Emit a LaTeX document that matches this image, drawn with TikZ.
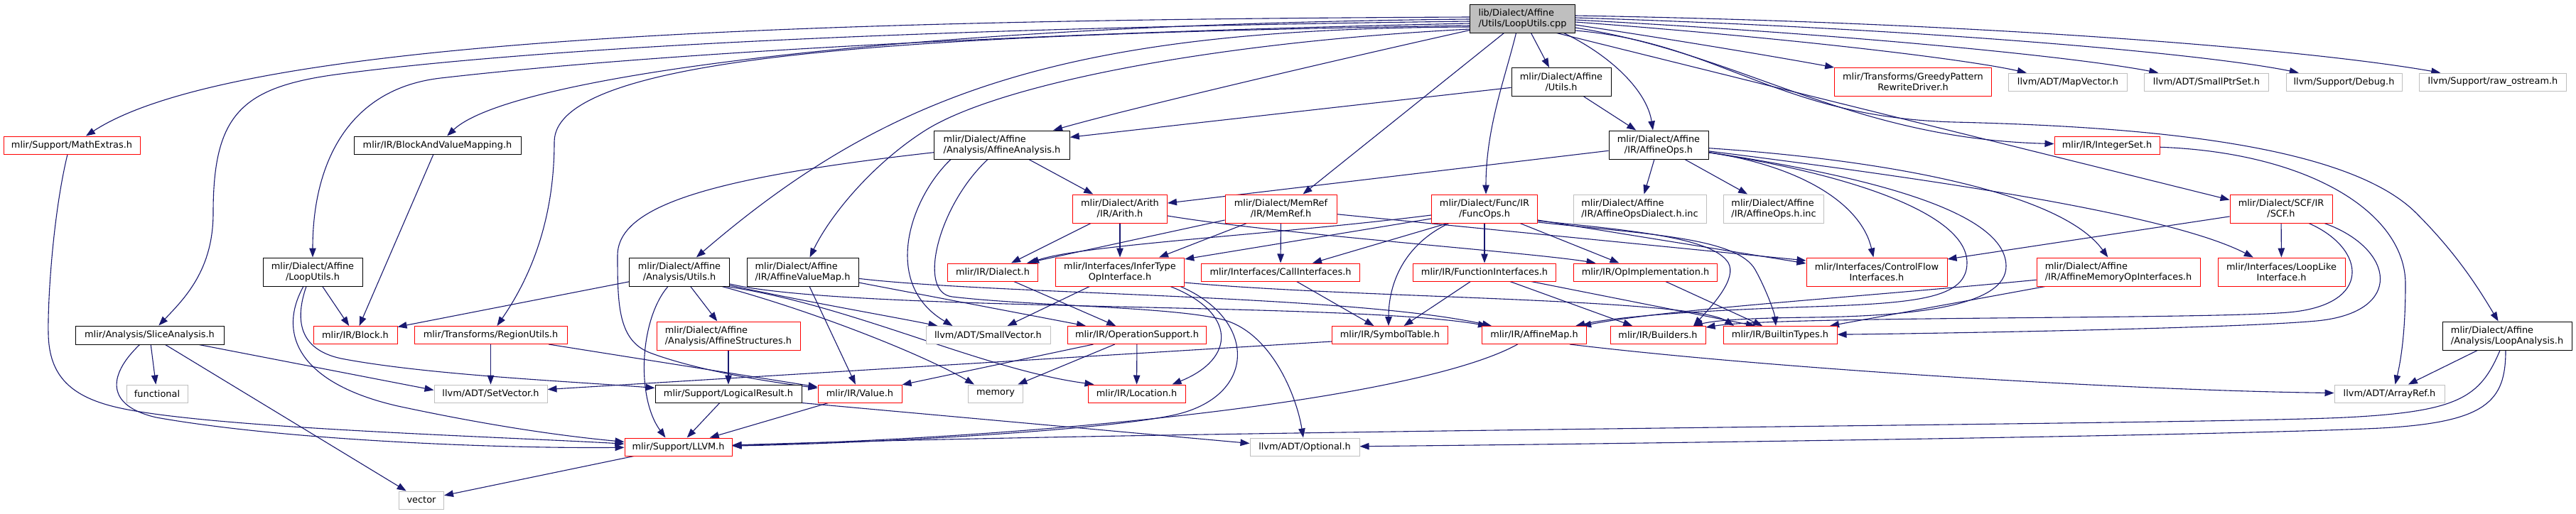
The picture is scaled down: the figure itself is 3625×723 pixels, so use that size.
\documentclass[tikz,border=0pt]{standalone}
\usepackage{fontspec}
\newfontfamily\graphfont{DejaVu Sans}
\usetikzlibrary{arrows.meta}
\definecolor{edgeblue}{HTML}{191970}
\definecolor{nodocgray}{HTML}{BFBFBF}
\definecolor{rootgray}{HTML}{BFBFBF}
\pgfdeclarelayer{background}
\pgfsetlayers{background,main}
\tikzset{
  box/.style={rectangle, draw, fill=white, line width=1pt, inner sep=0pt, minimum height=25pt, text=black, font=\graphfont\fontsize{12.9}{15}\selectfont},
  twoline/.style={minimum height=40pt},
  docbox/.style={box, draw=black},
  redbox/.style={box, draw=red},
  graybox/.style={box, draw=nodocgray},
  rootbox/.style={box, draw=black, fill=rootgray},
  dep/.style={draw=edgeblue, line width=1.1pt, -{Triangle[length=13pt,width=9.5pt]}},
}
\begin{document}
\begin{tikzpicture}[x=1pt,y=-1pt]
    \useasboundingbox (0,0) rectangle (3625,723);
    \node[rootbox, twoline, align=left, minimum width=147.5pt] (root) at (2142.5,26) {lib/Dialect/Affine\\/Utils/LoopUtils.cpp};
    \node[docbox, twoline, align=center, minimum width=140pt] (utils) at (2197,115.5) {mlir/Dialect/Affine\\/Utils.h};
    \node[redbox, twoline, align=center, minimum width=221pt] (greedy) at (2692,115.5) {mlir/Transforms/GreedyPattern\\RewriteDriver.h};
    \node[graybox, minimum width=167pt] (mapvector) at (2910,115.5) {llvm/ADT/MapVector.h};
    \node[graybox, minimum width=174.5pt] (smallptrset) at (3105,115.5) {llvm/ADT/SmallPtrSet.h};
    \node[graybox, minimum width=163pt] (debug) at (3298.5,115.5) {llvm/Support/Debug.h};
    \node[graybox, minimum width=206.5pt] (rawostream) at (3508,115.5) {llvm/Support/raw\_ostream.h};
    \node[redbox, minimum width=192pt] (mathextras) at (101,204.5) {mlir/Support/MathExtras.h};
    \node[docbox, minimum width=235pt] (bvmapping) at (615.5,204.5) {mlir/IR/BlockAndValueMapping.h};
    \node[docbox, twoline, align=left, minimum width=190.5pt] (affana) at (1410,204) {mlir/Dialect/Affine\\/Analysis/AffineAnalysis.h};
    \node[docbox, twoline, align=center, minimum width=140pt] (affops) at (2334,204) {mlir/Dialect/Affine\\/IR/AffineOps.h};
    \node[redbox, minimum width=148pt] (integerset) at (2965,204.5) {mlir/IR/IntegerSet.h};
    \node[redbox, twoline, align=center, minimum width=133pt] (arith) at (1576,294) {mlir/Dialect/Arith\\/IR/Arith.h};
    \node[redbox, twoline, align=center, minimum width=157pt] (memref) at (1802.5,294) {mlir/Dialect/MemRef\\/IR/MemRef.h};
    \node[redbox, twoline, align=center, minimum width=149pt] (funcops) at (2089,294) {mlir/Dialect/Func/IR\\/FuncOps.h};
    \node[graybox, twoline, align=left, minimum width=187pt] (opsdialect) at (2307.5,294) {mlir/Dialect/Affine\\/IR/AffineOpsDialect.h.inc};
    \node[graybox, twoline, align=left, minimum width=141pt] (opsinc) at (2496,294) {mlir/Dialect/Affine\\/IR/AffineOps.h.inc};
    \node[redbox, twoline, align=center, minimum width=144pt] (scf) at (3210,294) {mlir/Dialect/SCF/IR\\/SCF.h};
    \node[docbox, twoline, align=center, minimum width=140pt] (looputils) at (440,383) {mlir/Dialect/Affine\\/LoopUtils.h};
    \node[docbox, twoline, align=center, minimum width=141pt] (anautils) at (956,383) {mlir/Dialect/Affine\\/Analysis/Utils.h};
    \node[docbox, twoline, align=left, minimum width=157pt] (valuemap) at (1129.5,383) {mlir/Dialect/Affine\\/IR/AffineValueMap.h};
    \node[redbox, minimum width=127pt] (dialect) at (1397,383.5) {mlir/IR/Dialect.h};
    \node[redbox, twoline, align=center, minimum width=181.5pt] (infertype) at (1576,383) {mlir/Interfaces/InferType\\OpInterface.h};
    \node[redbox, minimum width=223pt] (callif) at (1802,383.5) {mlir/Interfaces/CallInterfaces.h};
    \node[redbox, minimum width=201pt] (funcif) at (2089,383.5) {mlir/IR/FunctionInterfaces.h};
    \node[redbox, minimum width=202pt] (opimpl) at (2315.5,383.5) {mlir/IR/OpImplementation.h};
    \node[redbox, twoline, align=center, minimum width=198pt] (controlflow) at (2641,383) {mlir/Interfaces/ControlFlow\\Interfaces.h};
    \node[redbox, twoline, align=left, minimum width=230pt] (memopif) at (2981,383) {mlir/Dialect/Affine\\/IR/AffineMemoryOpInterfaces.h};
    \node[redbox, twoline, align=center, minimum width=179pt] (looplike) at (3210.5,383) {mlir/Interfaces/LoopLike\\Interface.h};
    \node[docbox, minimum width=209pt, minimum height=26pt] (slice) at (210.5,472) {mlir/Analysis/SliceAnalysis.h};
    \node[redbox, minimum width=118pt] (block) at (500,472) {mlir/IR/Block.h};
    \node[redbox, minimum width=215pt] (regionutils) at (690.5,472) {mlir/Transforms/RegionUtils.h};
    \node[redbox, twoline, align=left, minimum width=202pt] (structures) at (1025,473) {mlir/Dialect/Affine\\/Analysis/AffineStructures.h};
    \node[graybox, minimum width=175pt] (smallvector) at (1390.5,472) {llvm/ADT/SmallVector.h};
    \node[redbox, minimum width=194.5pt] (opsupport) at (1600,472) {mlir/IR/OperationSupport.h};
    \node[redbox, minimum width=163pt] (symtable) at (1956,472) {mlir/IR/SymbolTable.h};
    \node[redbox, minimum width=146.5pt] (affmap) at (2159,472) {mlir/IR/AffineMap.h};
    \node[redbox, minimum width=134pt] (builders) at (2333,472) {mlir/IR/Builders.h};
    \node[redbox, minimum width=160pt] (builtintypes) at (2505,472) {mlir/IR/BuiltinTypes.h};
    \node[docbox, twoline, align=left, minimum width=182pt] (loopana) at (3528,473) {mlir/Dialect/Affine\\/Analysis/LoopAnalysis.h};
    \node[graybox, minimum width=86pt] (functional) at (221,554.5) {functional};
    \node[graybox, minimum width=159pt] (setvector) at (690.5,554.5) {llvm/ADT/SetVector.h};
    \node[docbox, minimum width=206pt] (logical) at (1025,554.5) {mlir/Support/LogicalResult.h};
    \node[redbox, minimum width=118pt] (value) at (1210,554.5) {mlir/IR/Value.h};
    \node[graybox, minimum width=77.5pt] (memory) at (1401,554.5) {memory};
    \node[redbox, minimum width=137pt] (location) at (1599.5,554.5) {mlir/IR/Location.h};
    \node[graybox, minimum width=155pt] (arrayref) at (3362.5,554.5) {llvm/ADT/ArrayRef.h};
    \node[redbox, minimum width=151pt] (llvm) at (954.5,629.5) {mlir/Support/LLVM.h};
    \node[graybox, minimum width=154pt] (optional) at (1836,629.5) {llvm/ADT/Optional.h};
    \node[graybox, minimum width=63pt] (vector) at (593,704.5) {vector};
    \begin{pgfonlayer}{background}
    \fill[white] (0,0) rectangle (3625,723);
    \draw[dep] ([yshift=2pt]root.west) .. controls (1100,28) and (330,55) .. (mathextras);
    \draw[dep] ([yshift=-1pt]root.west) .. controls (1300,34) and (720,105) .. (bvmapping);
    \draw[dep] ([yshift=-4pt]root.west) .. controls (1400,38) and (800,62) .. (480,104) .. controls (340,122) and (300,160) .. (300,300) .. controls (300,380) and (260,420) .. (slice);
    \draw[dep] ([yshift=-7pt]root.west) .. controls (1500,45) and (950,72) .. (620,110) .. controls (490,125) and (440,230) .. (looputils);
    \draw[dep] ([yshift=-10pt]root.west) .. controls (1300,48) and (780,75) .. (780,200) .. controls (780,320) and (740,400) .. (regionutils);
    \draw[dep] ([yshift=-12pt]root.west) .. controls (1500,40) and (1250,130) .. (anautils);
    \draw[dep] ([yshift=-15pt]root.west) .. controls (1700,60) and (1400,120) .. (1300,185) .. controls (1230,230) and (1170,300) .. (valuemap);
    \draw[dep] (root) .. controls (1900,80) and (1600,150) .. (affana);
    \draw[dep] ([xshift=-26pt]root.south) -- ([xshift=31pt]memref.north);
    \draw[dep] ([xshift=-9pt]root.south) .. controls (2118,110) and (2091,180) .. ([xshift=2pt]funcops.north);
    \draw[dep] ([xshift=12pt]root.south) -- ([xshift=-17pt]utils.north);
    \draw[dep] ([xshift=58pt]root.south) .. controls (2270,80) and (2318,130) .. ([xshift=-8pt]affops.north);
    \draw[dep] ([xshift=48pt]root.south) -- ([yshift=-8pt]scf.north west);
    \draw[dep] ([yshift=4pt]root.east) .. controls (2800,32) and (3250,70) .. (rawostream);
    \draw[dep] ([yshift=1pt]root.east) .. controls (2700,40) and (3100,75) .. (debug);
    \draw[dep] ([yshift=-2pt]root.east) .. controls (2600,48) and (2920,80) .. (smallptrset);
    \draw[dep] ([yshift=-5pt]root.east) .. controls (2500,52) and (2760,82) .. (mapvector);
    \draw[dep] ([yshift=-9pt]root.east) .. controls (2350,55) and (2500,80) .. (greedy);
    \draw[dep] ([yshift=-13pt]root.east) .. controls (2450,75) and (2600,195) .. (integerset);
    \draw[dep] ([yshift=-17pt]root.east) .. controls (2420,60) and (2500,165) .. (2750,172) .. controls (3000,178) and (3300,200) .. (3400,300) .. controls (3460,360) and (3490,410) .. (loopana);
    \draw[dep] (utils) -- (affana);
    \draw[dep] (utils) -- (affops);
    \draw[dep] (affana) -- (arith);
    \draw[dep] (affana) .. controls (1000,250) and (869,290) .. (869,360) .. controls (869,430) and (870,480) .. (915,497) .. controls (990,525) and (1100,540) .. (value);
    \draw[dep] ([xshift=-72pt]affana.south) .. controls (1280,280) and (1240,400) .. ([xshift=-50pt]smallvector.north);
    \draw[dep] ([xshift=-20pt]affana.south) .. controls (1320,290) and (1290,412) .. (1340,418) .. controls (1450,431) and (1650,432) .. (1720,450) .. controls (1790,468) and (1825,560) .. (optional);
    \draw[dep] (affops) -- (arith);
    \draw[dep] (affops) -- (opsdialect);
    \draw[dep] (affops) -- (opsinc);
    \draw[dep] (affops) .. controls (2540,235) and (2620,290) .. (controlflow);
    \draw[dep] (affops) .. controls (2650,225) and (2900,270) .. (memopif);
    \draw[dep] (affops) .. controls (2600,245) and (2768,300) .. (2768,370) .. controls (2768,420) and (2700,427) .. (2550,432) .. controls (2400,437) and (2280,445) .. (affmap);
    \draw[dep] (affops) .. controls (2640,250) and (2823,300) .. (2823,375) .. controls (2823,430) and (2700,445) .. (2550,447) .. controls (2450,448) and (2410,452) .. (builders);
    \draw[dep] (affops) .. controls (2700,250) and (3050,300) .. (looplike);
    \draw[dep] (arith) -- (dialect);
    \draw[dep] (arith) -- (infertype);
    \draw[dep] ([yshift=-10pt]arith.east) .. controls (1800,330) and (2150,355) .. ([xshift=-70pt]opimpl.north);
    \draw[dep] ([yshift=-16pt]memref.west) -- ([xshift=48pt]dialect.north);
    \draw[dep] ([xshift=-48pt]memref.south) -- ([xshift=55pt]infertype.north);
    \draw[dep] (memref) -- (callif);
    \draw[dep] (memref) -- ([yshift=16pt]controlflow.west);
    \draw[dep] ([yshift=-9pt]funcops.west) .. controls (1800,330) and (1520,345) .. ([xshift=52pt]dialect.north);
    \draw[dep] ([yshift=-14pt]funcops.west) -- ([yshift=18pt]infertype.east);
    \draw[dep] ([xshift=-52pt]funcops.south) -- ([xshift=45pt]callif.north);
    \draw[dep] ([xshift=-50pt]funcops.south) .. controls (1975,345) and (1954,400) .. ([xshift=-2pt]symtable.north);
    \draw[dep] (funcops) -- (funcif);
    \draw[dep] ([xshift=50pt]funcops.south) -- ([xshift=-37pt]opimpl.north);
    \draw[dep] ([yshift=-16pt]funcops.east) -- ([yshift=12pt]controlflow.west);
    \draw[dep] ([yshift=-17pt]funcops.east) .. controls (2300,325) and (2410,335) .. (2432,370) .. controls (2445,392) and (2410,430) .. ([xshift=50pt]builders.north);
    \draw[dep] ([yshift=-19pt]funcops.east) .. controls (2320,330) and (2445,335) .. (2470,380) .. controls (2485,407) and (2497,440) .. ([xshift=-6pt]builtintypes.north);
    \draw[dep] (scf) -- ([yshift=18pt]controlflow.east);
    \draw[dep] (scf) -- (looplike);
    \draw[dep] ([xshift=39pt]scf.south) .. controls (3330,350) and (3340,430) .. (3220,440) .. controls (3100,450) and (2500,445) .. (builders);
    \draw[dep] ([xshift=61pt]scf.south) .. controls (3370,350) and (3385,440) .. (3260,452) .. controls (3140,463) and (2700,470) .. (builtintypes);
    \draw[dep] ([xshift=-6pt]mathextras.south) .. controls (75,300) and (67,420) .. (68,470) .. controls (69,530) and (100,560) .. (170,575) .. controls (300,603) and (700,615) .. (llvm);
    \draw[dep] (bvmapping) -- (block);
    \draw[dep] (looputils) -- (block);
    \draw[dep] ([xshift=-9pt]looputils.south) .. controls (415,450) and (420,492) .. (480,505) .. controls (600,528) and (800,537) .. (logical);
    \draw[dep] ([xshift=-13pt]looputils.south) .. controls (390,470) and (420,540) .. (560,572) .. controls (700,602) and (800,615) .. (llvm);
    \draw[dep] (slice) -- (functional);
    \draw[dep] (slice) -- (vector);
    \draw[dep] (slice) -- ([yshift=5pt]setvector.west);
    \draw[dep] ([xshift=-14pt]slice.south) .. controls (150,530) and (150,572) .. (220,588) .. controls (400,620) and (700,632) .. (llvm);
    \draw[dep] (regionutils) -- (setvector);
    \draw[dep] (regionutils) -- (value);
    \draw[dep] (anautils) -- (block);
    \draw[dep] (anautils) -- (structures);
    \draw[dep] ([xshift=-16pt]anautils.south) .. controls (900,450) and (895,560) .. ([xshift=-18pt]llvm.north);
    \draw[dep] ([yshift=-19pt]anautils.east) .. controls (1150,428) and (1250,445) .. ([xshift=-71pt]smallvector.north);
    \draw[dep] ([xshift=60pt]anautils.south) .. controls (1150,440) and (1300,500) .. ([xshift=-30pt]memory.north);
    \draw[dep] ([xshift=66pt]anautils.south) .. controls (1200,430) and (1380,520) .. ([xshift=-60pt]location.north);
    \draw[dep] ([yshift=-17pt]anautils.east) .. controls (1200,440) and (1900,425) .. ([xshift=-66pt]affmap.north);
    \draw[dep] (valuemap) -- (value);
    \draw[dep] (valuemap) -- ([xshift=-72pt]opsupport.north);
    \draw[dep] (valuemap) .. controls (1400,415) and (1900,415) .. ([xshift=-60pt]affmap.north);
    \draw[dep] (structures) -- (logical);
    \draw[dep] (logical) -- (llvm);
    \draw[dep] (logical.south east) -- ([yshift=5pt]optional.west);
    \draw[dep] (value) -- (llvm);
    \draw[dep] (llvm) -- (vector);
    \draw[dep] (dialect) -- (opsupport);
    \draw[dep] (infertype) -- (smallvector);
    \draw[dep] ([xshift=71pt]infertype.south) .. controls (1740,440) and (1740,505) .. ([xshift=50pt]location.north);
    \draw[dep] ([xshift=85pt]infertype.south) .. controls (1770,450) and (1770,560) .. (1650,585) .. controls (1540,608) and (1200,625) .. (llvm);
    \draw[dep] ([yshift=-15pt]infertype.east) .. controls (1900,420) and (2380,420) .. ([xshift=-65pt]builtintypes.north);
    \draw[dep] (callif) -- (symtable);
    \draw[dep] (opsupport) -- (value);
    \draw[dep] (opsupport) -- (memory);
    \draw[dep] (opsupport) -- (location);
    \draw[dep] (funcif) -- (symtable);
    \draw[dep] (funcif) -- (builders);
    \draw[dep] (funcif) -- ([xshift=-35pt]builtintypes.north);
    \draw[dep] (opimpl) -- ([xshift=-25pt]builtintypes.north);
    \draw[dep] ([yshift=-9pt]symtable.west) -- ([yshift=6pt]setvector.east);
    \draw[dep] (affmap) .. controls (2000,560) and (1500,615) .. (llvm);
    \draw[dep] ([xshift=50pt]affmap.south) .. controls (2500,520) and (3000,550) .. (arrayref);
    \draw[dep] (memopif) .. controls (2600,420) and (2350,435) .. (affmap);
    \draw[dep] ([xshift=-103pt]memopif.south) -- ([xshift=70pt]builtintypes.north);
    \draw[dep] (integerset) .. controls (3250,215) and (3385,300) .. (3385,400) .. controls (3385,470) and (3378,510) .. ([xshift=8pt]arrayref.north);
    \draw[dep] (loopana) -- (arrayref);
    \draw[dep] ([xshift=-10pt]loopana.south) .. controls (3490,560) and (3460,580) .. (3300,588) .. controls (3100,598) and (1700,605) .. (llvm);
    \draw[dep] ([xshift=-2pt]loopana.south) .. controls (3526,565) and (3500,595) .. (3350,603) .. controls (3150,613) and (2300,625) .. (optional);
    \end{pgfonlayer}
\end{tikzpicture}
\end{document}
